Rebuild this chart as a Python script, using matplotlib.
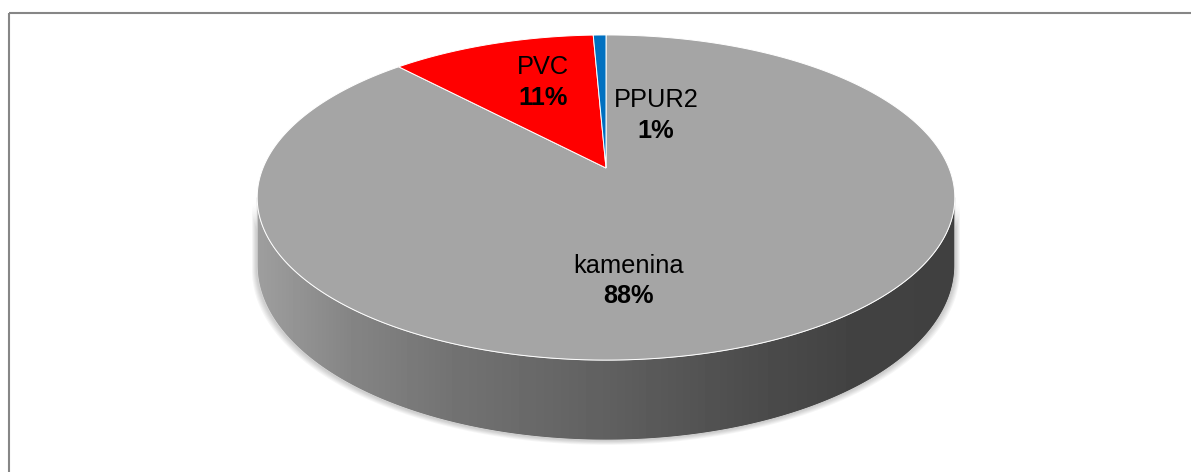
import numpy as np
import matplotlib
matplotlib.use('Agg')
import matplotlib.pyplot as plt
from matplotlib.patches import Polygon, Rectangle

plt.rcParams['font.family'] = ['Liberation Sans', 'DejaVu Sans']

# data
labels = ['kamenina', 'PVC', 'PPUR2']
values = [88.0, 11.3, 0.7]
colors = ['#a5a5a5', '#ff0000', '#0070c0']

# label anchors in pixels (name baseline, value baseline)
label_pos = {
    'kamenina': (629, 273, 303),
    'PVC': (543, 74, 105),
    'PPUR2': (656, 107, 138),
}

W, H = 1191, 472
fig = plt.figure(figsize=(W / 100, H / 100), dpi=100)
ax = fig.add_axes([0, 0, 1, 1])
ax.set_xlim(0, W)
ax.set_ylim(H, 0)
ax.axis('off')

# perspective model of the pie
X0, Y0 = 606, 168
A, B, K, HT = 343, 157.2, 0.1816, 65.5


def proj(theta, r=1.0, z=0.0):
    # theta clockwise from 12 o'clock, in radians
    u = r * np.sin(theta)
    v = -r * np.cos(theta)
    w = 1 - K * v
    return np.column_stack([X0 + A * u / w, Y0 + (B * v + z) / w])


# side wall
tr = np.arccos(-K)
tl = 2 * np.pi - tr
t = np.linspace(tr, tl, 300)
top_arc = proj(t)
bot_arc = proj(t[::-1], z=HT)
side_pts = np.vstack([top_arc, bot_arc])

# soft shadow under the pie
for i in range(6, 0, -1):
    sh = side_pts.copy()
    cx = sh[:, 0].mean()
    sh[:, 0] = cx + (sh[:, 0] - cx) * (1 + i * 0.0025)
    sh[:, 1] = sh[:, 1] + i * 0.8
    ax.add_patch(Polygon(sh, closed=True, facecolor='#000000',
                         edgecolor='none', alpha=0.035, zorder=1))

side = Polygon(side_pts, closed=True, facecolor='none',
               edgecolor='#d8d8d8', lw=0.6, zorder=3)
ax.add_patch(side)
gx = np.arange(W)
shade = np.interp(gx, [257, 350, 450, 600, 750, 850, 955],
                  [0.62, 0.52, 0.45, 0.38, 0.30, 0.26, 0.25])
grad = np.tile(shade, (2, 1))
im = ax.imshow(grad, cmap='gray', vmin=0, vmax=1, aspect='auto',
               extent=[0, W, 450, 150], zorder=2)
im.set_clip_path(side)

# top wedges
start = 0.0
total = sum(values)
for lab, val, col in zip(labels, values, colors):
    span = val / total * 2 * np.pi
    tt = np.linspace(start, start + span, max(int(span * 120), 4))
    pts = np.vstack([[X0, Y0], proj(tt)])
    ax.add_patch(Polygon(pts, closed=True, facecolor=col,
                         edgecolor='white', lw=0.7, zorder=4))
    start += span

# labels
for lab, val in zip(labels, values):
    x, yn, yv = label_pos[lab]
    pct = '{:.0f}%'.format(val / total * 100)
    ax.text(x, yn, lab, fontsize=18.3, ha='center', va='baseline',
            color='black', zorder=5)
    ax.text(x, yv, pct, fontsize=18.3, fontweight='bold', ha='center',
            va='baseline', color='black', zorder=5)

# chart frame
ax.add_patch(Rectangle((9, 13), 1300, 600, facecolor='none',
                       edgecolor='#868686', lw=1.5, zorder=6))

fig.savefig('out.png', dpi=100)
